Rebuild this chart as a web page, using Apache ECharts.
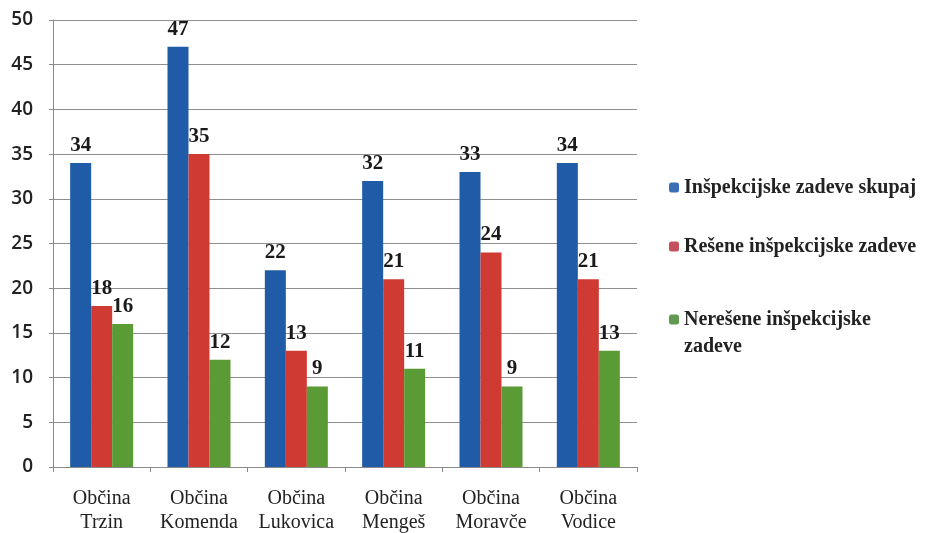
<!DOCTYPE html>
<html>
<head>
<meta charset="utf-8">
<script src="https://cdn.jsdelivr.net/npm/echarts@6/dist/echarts.min.js"></script>
<style>
html,body{margin:0;padding:0;background:#fff;}
#c{width:934px;height:533px;}
</style>
</head>
<body>
<div id="c"></div>
<script>
const categories = ['Občina\nTrzin', 'Občina\nKomenda', 'Občina\nLukovica', 'Občina\nMengeš', 'Občina\nMoravče', 'Občina\nVodice'];
const seriesNames = ['Inšpekcijske zadeve skupaj', 'Rešene inšpekcijske zadeve', 'Nerešene inšpekcijske zadeve'];
const skupaj = [34, 47, 22, 32, 33, 34];
const resene = [18, 35, 13, 21, 24, 21];
const neresene = [16, 12, 9, 11, 9, 13];
const yTicks = [0, 5, 10, 15, 20, 25, 30, 35, 40, 45, 50];

const barColors = ['#1f5ba6', '#cf3a32', '#5a9b35'];
const legendColors = ['#3a6fb8', '#c4505c', '#5f9a50'];
const serif = '"Liberation Serif", "Times New Roman", serif';

const chart = echarts.init(document.getElementById('c'), null, {renderer: 'canvas'});

function mkSeries(name, data, idx) {
  return {
    name: name,
    type: 'bar',
    data: data,
    barWidth: 21,
    barGap: '0%',
    itemStyle: {color: barColors[idx]},
    label: {
      show: true,
      position: 'top',
      distance: 7,
      fontFamily: serif,
      fontWeight: 'bold',
      fontSize: 21,
      color: '#1a1a1a'
    }
  };
}

function mkLegend(name, idx, top, fmt) {
  return {
    orient: 'vertical',
    left: 664,
    top: top,
    itemWidth: 10,
    itemHeight: 10,
    icon: 'roundRect',
    data: [{name: name, itemStyle: {color: legendColors[idx]}}],
    formatter: fmt || '{name}',
    textStyle: {
      fontFamily: serif,
      fontWeight: 'bold',
      fontSize: 20,
      lineHeight: 27,
      color: '#222'
    }
  };
}

chart.setOption({
  animation: false,
  backgroundColor: '#fff',
  grid: {left: 53, right: 297, top: 20, bottom: 66, containLabel: false, outerBoundsMode: 'none'},
  legend: [
    mkLegend(seriesNames[0], 0, 169),
    mkLegend(seriesNames[1], 1, 228),
    mkLegend(seriesNames[2], 2, 274, function(){ return ' \nNerešene inšpekcijske\nzadeve'; })
  ],
  xAxis: {
    type: 'category',
    data: categories,
    axisLine: {show: true, lineStyle: {color: '#8a8a8a', width: 1}},
    axisTick: {show: true, length: 5, lineStyle: {color: '#8a8a8a'}},
    axisLabel: {
      fontFamily: serif,
      fontSize: 20,
      lineHeight: 24,
      color: '#222',
      margin: 20,
      interval: 0
    },
    splitLine: {show: false}
  },
  yAxis: {
    type: 'value',
    min: yTicks[0],
    max: yTicks[yTicks.length - 1],
    interval: 5,
    axisLine: {show: true, lineStyle: {color: '#8a8a8a', width: 1}},
    axisTick: {show: true, length: 4, lineStyle: {color: '#8a8a8a'}},
    axisLabel: {
      fontFamily: '"Open Sans", "Liberation Sans", sans-serif',
      fontSize: 19,
      fontWeight: 600,
      color: '#222',
      margin: 20
    },
    splitLine: {show: true, lineStyle: {color: '#8f8f8f', width: 1}}
  },
  series: [
    mkSeries(seriesNames[0], skupaj, 0),
    mkSeries(seriesNames[1], resene, 1),
    mkSeries(seriesNames[2], neresene, 2)
  ]
});
</script>
</body>
</html>
